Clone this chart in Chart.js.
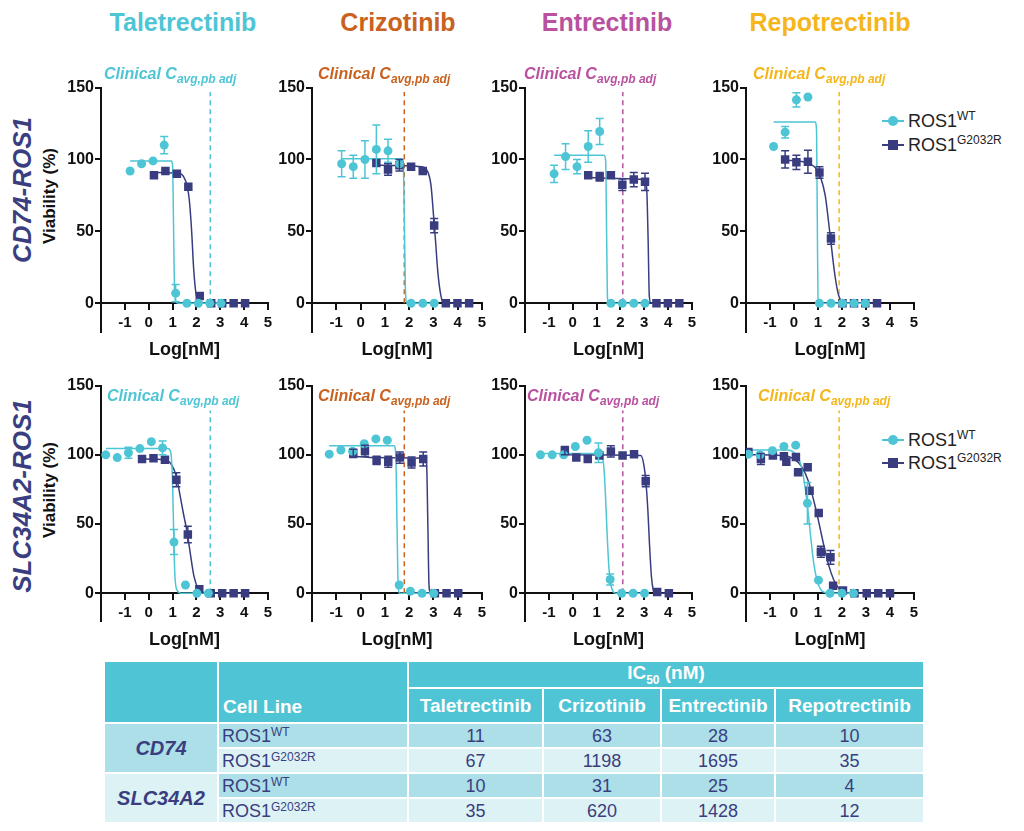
<!DOCTYPE html>
<html>
<head>
<meta charset="utf-8">
<script src="https://cdn.jsdelivr.net/npm/chart.js"></script>
<style>
body { margin:0; background:#fff; width:1024px; height:831px; position:relative; overflow:hidden;
       font-family:"Liberation Sans", Arial, sans-serif; }
canvas { position:absolute; }
.ttl { position:absolute; top:8px; font-size:25px; font-weight:bold; transform:translateX(-50%); white-space:nowrap; }
.clin { position:absolute; font-size:16px; font-weight:bold; font-style:italic; white-space:nowrap; }
.clin sub { font-size:12px; vertical-align:-4px; }
.rot { position:absolute; white-space:nowrap; transform:translate(-50%,-50%) rotate(-90deg); font-weight:bold; }
.rowlab { font-size:26px; font-style:italic; color:#3A3E7F; }
.ylab { font-size:17px; color:#111; }
.leg { position:absolute; font-size:18px; color:#222; white-space:nowrap; height:22px; line-height:22px; }
.leg sup { font-size:12px; vertical-align:7px; line-height:0; }
.mk { display:inline-block; position:relative; width:22px; height:22px; vertical-align:top; margin-right:4px; }
.mk i { position:absolute; left:0; top:10px; width:22px; height:2px; }
.mk b { position:absolute; left:6px; top:6px; width:10px; height:10px; }
#ic50 { position:absolute; left:103px; top:660px; width:820px; border-collapse:collapse; table-layout:fixed;
        font-size:18px; color:#3A3E7F; }
#ic50 td, #ic50 th { border:2px solid #fff; padding:0; }
#ic50 th { background:#4FC4D4; color:#fff; font-weight:bold; font-size:19px; }
#ic50 tr.h1 th { height:24px; }
#ic50 tr.h2 th { height:33px; }
#ic50 th.cl { text-align:left; vertical-align:bottom; padding:0 0 4px 4px; }
#ic50 th sub { font-size:12px; vertical-align:-5px; }
#ic50 td { height:23px; text-align:center; line-height:20px; }
#ic50 td.nm { text-align:left; padding-left:3px; }
#ic50 td sup { font-size:12px; vertical-align:6px; line-height:0; }
#ic50 td.grp { font-weight:bold; font-style:italic; font-size:20px; }
#ic50 tr.dark td { background:#ACDFE8; }
#ic50 tr.light td { background:#DDF2F5; }
#ic50 td.g0 { background:#ACDFE8 !important; }
#ic50 td.g1 { background:#DDF2F5 !important; }
</style>
</head>
<body>
<div id="page"></div>
<script>
// ---- data (x = log10 nM, y = viability %) ----
const drugs = ['Taletrectinib', 'Crizotinib', 'Entrectinib', 'Repotrectinib'];
const xTicks = [-1, 0, 1, 2, 3, 4, 5];
const yTicks = [0, 50, 100, 150];
const clinX = [2.58, 1.8, 2.1, 1.88];   // clinical C avg,pb adj lines

// Taletrectinib / CD74-ROS1
const talC_wtX = [-0.78, -0.3, 0.18, 0.65, 1.13, 1.6, 2.08, 2.56, 3.03];
const talC_wtY = [92, 97, 99, 110, 7, 0, 0, 0, 0];
const talC_wtE = [0, 0, 0, 6, 6, 0, 0, 0, 0];
const talC_wtFit = [[-0.78, 99], [0.95, 99], [1.0, 96], [1.04, 55], [1.08, 10], [1.14, 1], [1.25, 0], [3.03, 0]];
const talC_mutX = [0.22, 0.7, 1.18, 1.66, 2.14, 2.62, 3.08, 3.56, 4.04];
const talC_mutY = [89, 92, 90, 81, 5, 0, 0, 0, 0];
const talC_mutE = [0, 0, 0, 0, 0, 0, 0, 0, 0];
const talC_mutFit = [[0.22, 91], [1.2, 90.5], [1.55, 85], [1.7, 72], [1.8, 50], [1.88, 25], [1.97, 8], [2.05, 2], [2.15, 0], [4.04, 0]];

// Crizotinib / CD74-ROS1
const crzC_wtX = [-0.78, -0.3, 0.18, 0.65, 1.13, 1.6, 2.08, 2.56, 3.03];
const crzC_wtY = [97, 95, 100, 107, 106, 97, 0, 0, 0];
const crzC_wtE = [9, 8, 13, 17, 8, 0, 0, 0, 0];
const crzC_wtFit = [[-0.78, 100.5], [1.7, 100.5], [1.76, 97], [1.8, 60], [1.84, 15], [1.88, 1], [1.95, 0], [3.03, 0]];
const crzC_mutX = [0.65, 1.13, 1.6, 2.08, 2.56, 3.03, 3.51, 3.99, 4.47];
const crzC_mutY = [97.5, 93, 96, 95, 92, 54, 0, 0, 0];
const crzC_mutE = [0, 4, 4, 0, 0, 5, 0, 0, 0];
const crzC_mutFit = [[0.65, 96], [2.5, 95], [2.75, 92], [2.9, 82], [3.0, 62], [3.08, 45], [3.18, 22], [3.3, 6], [3.42, 0], [4.47, 0]];

// Entrectinib / CD74-ROS1
const entC_wtX = [-0.78, -0.3, 0.18, 0.65, 1.13, 1.6, 2.08, 2.56, 3.03];
const entC_wtY = [90, 102, 95, 109, 119.5, 0, 0, 0, 0];
const entC_wtE = [6, 9, 5, 11, 9, 0, 0, 0, 0];
const entC_wtFit = [[-0.78, 103], [1.32, 103], [1.38, 99], [1.42, 50], [1.46, 3], [1.52, 0], [3.03, 0]];
const entC_mutX = [0.65, 1.13, 1.6, 2.08, 2.56, 3.03, 3.51, 3.99, 4.47];
const entC_mutY = [89, 88, 89, 82.5, 86, 84.5, 0, 0, 0];
const entC_mutE = [0, 3, 0, 4, 5, 6, 0, 0, 0];
const entC_mutFit = [[0.65, 87.5], [1.5, 87], [3.02, 86], [3.1, 80], [3.16, 45], [3.21, 5], [3.28, 0], [4.47, 0]];

// Repotrectinib / CD74-ROS1
const repC_wtX = [-0.85, -0.37, 0.1, 0.58, 1.06, 1.54, 2.02, 2.5, 2.97];
const repC_wtY = [109, 119, 141.5, 143.5, 0, 0, 0, 0, 0];
const repC_wtE = [0, 4, 5, 0, 0, 0, 0, 0, 0];
const repC_wtFit = [[-0.85, 126], [0.88, 126], [0.94, 120], [0.97, 60], [1.0, 3], [1.04, 0], [2.97, 0]];
const repC_mutX = [-0.37, 0.1, 0.58, 1.06, 1.54, 2.02, 2.5, 2.97, 3.46];
const repC_mutY = [100, 98, 98.5, 91, 45, 0, 0, 0, 0];
const repC_mutE = [6, 5, 8, 4, 4, 0, 0, 0, 0];
const repC_mutFit = [[-0.37, 99.5], [0.5, 98], [0.9, 94], [1.1, 88], [1.3, 75], [1.5, 48], [1.7, 20], [1.85, 6], [2.0, 1], [2.1, 0], [3.46, 0]];

// Taletrectinib / SLC34A2-ROS1
const talS_wtX = [-1.8, -1.32, -0.85, -0.37, 0.11, 0.58, 1.06, 1.54, 2.02, 2.5];
const talS_wtY = [100, 98, 101.5, 104.5, 109.5, 105, 37, 6, 0, 0];
const talS_wtE = [0, 0, 4, 0, 0, 5, 9, 0, 0, 0];
const talS_wtFit = [[-1.8, 104.5], [0.8, 104.5], [0.92, 102], [1.0, 80], [1.05, 40], [1.1, 12], [1.2, 2], [1.35, 0], [2.5, 0]];
const talS_mutX = [-0.28, 0.2, 0.68, 1.16, 1.64, 2.12, 2.6, 3.08, 3.56, 4.04];
const talS_mutY = [97, 97.5, 96.5, 82, 42.5, 3, 0, 0, 0, 0];
const talS_mutE = [0, 0, 0, 5, 6, 0, 0, 0, 0, 0];
const talS_mutFit = [[-0.28, 97], [0.7, 96.5], [0.95, 93], [1.15, 85], [1.3, 72], [1.45, 58], [1.6, 45], [1.75, 28], [1.9, 12], [2.05, 4], [2.2, 0], [4.04, 0]];

// Crizotinib / SLC34A2-ROS1
const crzS_wtX = [-1.29, -0.81, -0.33, 0.15, 0.63, 1.1, 1.59, 2.05, 2.53, 3.01];
const crzS_wtY = [100.5, 103.5, 102.5, 108, 111.5, 110.5, 6, 1.5, 0, 0];
const crzS_wtE = [0, 0, 0, 0, 0, 0, 0, 0, 0, 0];
const crzS_wtFit = [[-1.29, 106.5], [1.38, 106.5], [1.45, 100], [1.5, 50], [1.55, 5], [1.6, 0], [3.01, 0]];
const crzS_mutX = [-0.3, 0.18, 0.66, 1.14, 1.62, 2.1, 2.58, 3.06, 3.54, 4.02];
const crzS_mutY = [101, 103, 96, 95, 98, 94.5, 97, 0, 0, 0];
const crzS_mutE = [3, 4, 3, 4, 4, 4, 5, 0, 0, 0];
const crzS_mutFit = [[-0.3, 99], [0.5, 98], [2.65, 97.5], [2.72, 93], [2.77, 50], [2.82, 5], [2.88, 0], [4.02, 0]];

// Entrectinib / SLC34A2-ROS1
const entS_wtX = [-1.35, -0.86, -0.38, 0.11, 0.6, 1.08, 1.57, 2.05, 2.53, 3.01];
const entS_wtY = [100, 100, 100, 106, 110.5, 101.5, 10, 0, 0, 0];
const entS_wtE = [0, 0, 0, 0, 0, 7, 4, 0, 0, 0];
const entS_wtFit = [[-1.35, 101], [1.15, 101], [1.25, 98], [1.32, 88], [1.38, 68], [1.45, 40], [1.52, 18], [1.6, 6], [1.7, 1], [1.8, 0], [3.01, 0]];
const entS_mutX = [-0.33, 0.15, 0.63, 1.12, 1.6, 2.09, 2.57, 3.06, 3.54, 4.03];
const entS_mutY = [103, 98, 97, 99.5, 102.5, 99.5, 100.5, 81, 1, 0];
const entS_mutE = [3, 0, 0, 0, 4, 0, 0, 4, 0, 0];
const entS_mutFit = [[-0.33, 100], [2.85, 99.5], [2.98, 93], [3.07, 80], [3.15, 60], [3.22, 35], [3.3, 12], [3.38, 2], [3.45, 0], [4.03, 0]];

// Repotrectinib / SLC34A2-ROS1
const repS_wtX = [-1.9, -1.42, -0.9, -0.42, 0.07, 0.56, 1.02, 1.5, 2.0, 2.48];
const repS_wtY = [100.5, 100, 103, 106, 107, 65, 9.5, 0, 0, 0];
const repS_wtE = [0, 0, 0, 0, 0, 15, 0, 0, 0, 0];
const repS_wtFit = [[-1.9, 103.5], [-0.3, 103.5], [0.1, 100], [0.3, 92], [0.45, 78], [0.58, 60], [0.7, 40], [0.82, 22], [0.95, 10], [1.1, 3], [1.3, 0.5], [1.5, 0], [2.48, 0]];
const repS_mutX = [-1.9, -1.38, -0.88, -0.42, -0.32, 0.08, 0.17, 0.57, 0.65, 1.03, 1.12, 1.52, 1.63, 2.04, 2.52, 3.03, 3.51, 4.0];
const repS_mutY = [102, 97, 99.5, 99, 95, 98.5, 87.5, 91, 74, 58, 30, 26, 5.5, 2, 0, 0, 0, 0];
const repS_mutE = [0, 4, 0, 0, 0, 0, 0, 0, 0, 0, 4, 5, 0, 0, 0, 0, 0, 0];
const repS_mutFit = [[-1.9, 100], [-0.5, 99.5], [0.0, 97], [0.3, 92], [0.6, 81], [0.85, 65], [1.05, 50], [1.25, 34], [1.45, 20], [1.65, 10], [1.85, 4], [2.05, 1], [2.3, 0], [4.0, 0]];

// IC50 table (nM)
const tableGroups = ['CD74', 'SLC34A2'];
const tableLines = ['WT', 'G2032R'];
const ic50_CD74_WT = [11, 63, 28, 10];
const ic50_CD74_G2032R = [67, 1198, 1695, 35];
const ic50_SLC34A2_WT = [10, 31, 25, 4];
const ic50_SLC34A2_G2032R = [35, 620, 1428, 12];

// ---- styling / layout ----
const FONT = '"Liberation Sans", Arial, sans-serif';
const CYAN = '#4EC5D5', NAVY = '#393D80', INK = '#111';
const drugColors = ['#4EC5D5', '#C9621E', '#B9519F', '#F5B61B'];
const colL = [101, 312, 525, 746], colR = [268, 482, 692, 914];
const rowT = [87, 385], rowB = [332, 621];
const clinTop = [147, 132];
const clinTextX = [[104, 318, 524, 753], [107, 318, 527, 758]];
const clinTextY = [65, 387];
const legendTop = [[110, 134], [429, 452]];

const panels = [
  [talC_wtX, talC_wtY, talC_wtE, talC_wtFit, talC_mutX, talC_mutY, talC_mutE, talC_mutFit],
  [crzC_wtX, crzC_wtY, crzC_wtE, crzC_wtFit, crzC_mutX, crzC_mutY, crzC_mutE, crzC_mutFit],
  [entC_wtX, entC_wtY, entC_wtE, entC_wtFit, entC_mutX, entC_mutY, entC_mutE, entC_mutFit],
  [repC_wtX, repC_wtY, repC_wtE, repC_wtFit, repC_mutX, repC_mutY, repC_mutE, repC_mutFit],
  [talS_wtX, talS_wtY, talS_wtE, talS_wtFit, talS_mutX, talS_mutY, talS_mutE, talS_mutFit],
  [crzS_wtX, crzS_wtY, crzS_wtE, crzS_wtFit, crzS_mutX, crzS_mutY, crzS_mutE, crzS_mutFit],
  [entS_wtX, entS_wtY, entS_wtE, entS_wtFit, entS_mutX, entS_mutY, entS_mutE, entS_mutFit],
  [repS_wtX, repS_wtY, repS_wtE, repS_wtFit, repS_mutX, repS_mutY, repS_mutE, repS_mutFit]
];

// error bars with caps, drawn from the dataset's errs array
const errorBars = {
  id: 'errorBars',
  afterDatasetsDraw(chart) {
    const ctx = chart.ctx, ys = chart.scales.y;
    chart.data.datasets.forEach((ds, di) => {
      if (!ds.errs) return;
      const meta = chart.getDatasetMeta(di);
      ctx.save();
      ctx.strokeStyle = ds.borderColor;
      ctx.lineWidth = 1.5;
      meta.data.forEach((pt, i) => {
        const e = ds.errs[i];
        if (!e) return;
        const v = ds.data[i].y;
        const y1 = ys.getPixelForValue(v + e), y2 = ys.getPixelForValue(v - e);
        ctx.beginPath();
        ctx.moveTo(pt.x, y1); ctx.lineTo(pt.x, y2);
        ctx.moveTo(pt.x - 4, y1); ctx.lineTo(pt.x + 4, y1);
        ctx.moveTo(pt.x - 4, y2); ctx.lineTo(pt.x + 4, y2);
        ctx.stroke();
      });
      ctx.restore();
    });
  }
};

const page = document.getElementById('page');
function pts(xs, ys) { return xs.map((x, i) => ({x: x, y: ys[i]})); }
function pairs(p) { return p.map(a => ({x: a[0], y: a[1]})); }

function addHtml(html) { page.insertAdjacentHTML('beforeend', html); }

// column titles
const titleX = [183, 398, 607, 830];
drugs.forEach((d, i) => addHtml('<div class="ttl" style="left:' + titleX[i] + 'px;color:' + drugColors[i] + '">' + d + '</div>'));

// row labels and y titles
addHtml('<div class="rot rowlab" style="left:22px;top:190px">CD74-ROS1</div>');
addHtml('<div class="rot rowlab" style="left:22px;top:496px">SLC34A2-ROS1</div>');
addHtml('<div class="rot ylab" style="left:50px;top:196px">Viability (%)</div>');
addHtml('<div class="rot ylab" style="left:50px;top:490px">Viability (%)</div>');

// legends
legendTop.forEach(ys => {
  addHtml('<div class="leg" style="left:882px;top:' + ys[0] + 'px"><span class="mk"><i style="background:' + CYAN + '"></i><b style="background:' + CYAN + ';border-radius:50%"></b></span>ROS1<sup>WT</sup></div>');
  addHtml('<div class="leg" style="left:882px;top:' + ys[1] + 'px"><span class="mk"><i style="background:' + NAVY + '"></i><b style="background:' + NAVY + '"></b></span>ROS1<sup>G2032R</sup></div>');
});

panels.forEach((p, k) => {
  const row = Math.floor(k / 4), col = k % 4;
  const L = colL[col], R = colR[col], T = rowT[row], B = rowB[row];
  const cv = document.createElement('canvas');
  const w = R - L + 60 + 16, h = B - T + 10 + 32;
  cv.width = w; cv.height = h;
  cv.style.left = (L - 60) + 'px'; cv.style.top = (T - 10) + 'px';
  cv.style.width = w + 'px'; cv.style.height = h + 'px';
  page.appendChild(cv);

  addHtml('<div class="clin" style="left:' + clinTextX[row][col] + 'px;top:' + clinTextY[row] + 'px;color:' + drugColors[col] + '">Clinical C<sub>avg,pb adj</sub></div>');

  new Chart(cv, {
    type: 'scatter',
    data: {
      datasets: [
        {data: pts(p[0], p[1]), errs: p[2], pointStyle: 'circle', pointRadius: 4.5, backgroundColor: CYAN, borderColor: CYAN, borderWidth: 0, order: 0},
        {data: pts(p[4], p[5]), errs: p[6], pointStyle: 'rect', pointRadius: 6, backgroundColor: NAVY, borderColor: NAVY, borderWidth: 0, order: 0},
        {data: pairs(p[3]), showLine: true, borderColor: CYAN, borderWidth: 1.5, pointRadius: 0, cubicInterpolationMode: 'monotone', order: 1},
        {data: pairs(p[7]), showLine: true, borderColor: NAVY, borderWidth: 1.5, pointRadius: 0, cubicInterpolationMode: 'monotone', order: 1},
        {data: [{x: clinX[col], y: 0}, {x: clinX[col], y: clinTop[row]}], showLine: true, borderColor: drugColors[col], borderWidth: 1.5, borderDash: [5, 4], pointRadius: 0, order: 2}
      ]
    },
    options: {
      responsive: false,
      animation: false,
      layout: {padding: {left: 0, top: 10, right: 16, bottom: 32}},
      plugins: {legend: {display: false}, tooltip: {enabled: false}},
      scales: {
        x: {
          type: 'linear', min: -2, max: 5, position: {y: 0},
          afterBuildTicks: s => { s.ticks = xTicks.map(v => ({value: v})); },
          grid: {display: true, drawOnChartArea: false, drawTicks: true, tickLength: 6, color: INK, lineWidth: 2},
          border: {display: true, color: INK, width: 2},
          ticks: {font: {family: FONT, size: 15, weight: 'bold'}, color: INK, padding: 5, maxRotation: 0},
          title: {display: true, text: 'Log[nM]', font: {family: FONT, size: 18, weight: 'bold'}, color: INK, padding: {top: 2, bottom: 0}}
        },
        y: {
          type: 'linear', min: -20, max: 150,
          afterBuildTicks: s => { s.ticks = yTicks.map(v => ({value: v})); },
          afterFit: s => { s.width = 60; },
          grid: {display: true, drawOnChartArea: false, drawTicks: true, tickLength: 6, color: INK, lineWidth: 2},
          border: {display: true, color: INK, width: 2},
          ticks: {font: {family: FONT, size: 16, weight: 'bold'}, color: INK, padding: 1}
        }
      }
    },
    plugins: [errorBars]
  });
});

// IC50 table
const ic50Rows = [ic50_CD74_WT, ic50_CD74_G2032R, ic50_SLC34A2_WT, ic50_SLC34A2_G2032R];
let t = '<table id="ic50"><colgroup><col style="width:114px"><col style="width:190px"><col style="width:135px"><col style="width:118px"><col style="width:114px"><col style="width:149px"></colgroup>';
t += '<tr class="h1"><th rowspan="2"></th><th rowspan="2" class="cl">Cell Line</th><th colspan="4">IC<sub>50</sub> (nM)</th></tr>';
t += '<tr class="h2">' + drugs.map(d => '<th>' + d + '</th>').join('') + '</tr>';
ic50Rows.forEach((vals, i) => {
  const g = Math.floor(i / 2), m = i % 2;
  t += '<tr class="' + (m === 0 ? 'dark' : 'light') + '">';
  if (m === 0) t += '<td rowspan="2" class="grp g' + g + '">' + tableGroups[g] + '</td>';
  t += '<td class="nm">ROS1<sup>' + tableLines[m] + '</sup></td>';
  t += vals.map(v => '<td>' + v + '</td>').join('') + '</tr>';
});
t += '</table>';
addHtml(t);
</script>
</body>
</html>
